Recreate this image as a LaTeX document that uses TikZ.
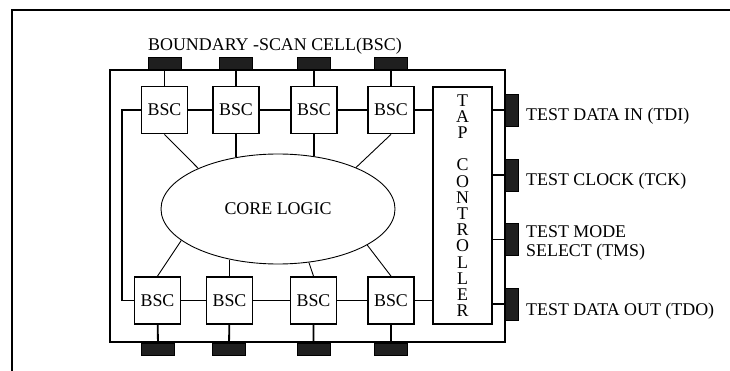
\documentclass[tikz,border=0pt]{standalone}
\usepackage{fontspec}
\setmainfont{Liberation Serif}
\usetikzlibrary{shapes.geometric}

\tikzset{
  bsc/.style={draw, line width=1.8pt, minimum width=46pt, minimum height=47pt, inner sep=0pt, fill=white},
  pad/.style={draw, fill=black!88, line width=0.8pt, inner sep=0pt},
  toppad/.style={pad, minimum width=33pt, minimum height=12pt},
  sidepad/.style={pad, minimum width=13pt, minimum height=32pt},
  wire/.style={line width=1.8pt},
  thinwire/.style={line width=0.9pt},
  pinlabel/.style={anchor=base west, inner sep=0pt, align=left},
}

\begin{document}
\begin{tikzpicture}[x=1pt, y=-1pt, font=\fontsize{17.9}{18}\selectfont]
    \useasboundingbox (0,0) rectangle (730,371);
    \draw[line width=2.2pt] (730,10) -- (12,10) -- (12,371);

    % chip outline
    \node[draw, line width=1.8pt, minimum width=395pt, minimum height=272pt, inner sep=0pt] (chip) at (307.5,206) {};

    \node[pinlabel] (title) at (148,51) {BOUNDARY -SCAN CELL(BSC)};

    % boundary scan cells
    \node[bsc] (t1) at (164.5,110) {BSC};
    \node[bsc] (t2) at (236,110) {BSC};
    \node[bsc] (t3) at (314,110) {BSC};
    \node[bsc] (t4) at (391,110) {BSC};
    \node[bsc] (b1) at (157.5,300.5) {BSC};
    \node[bsc] (b2) at (229.5,300.5) {BSC};
    \node[bsc] (b3) at (313.5,300.5) {BSC};
    \node[bsc] (b4) at (391,300.5) {BSC};

    \node[ellipse, draw, line width=0.9pt, minimum width=234pt, minimum height=110pt] (core) at (278,209) {CORE LOGIC};

    \node[draw, line width=1.8pt, minimum width=59pt, minimum height=237pt, inner sep=0pt, align=center,
          font=\fontsize{17.9}{16.2}\selectfont] (tap) at (462.5,205.5)
          {T\\A\\P\\[16.2pt]C\\O\\N\\T\\R\\O\\L\\L\\E\\R};

    % pins
    \node[toppad] (tp1) at (164.5,63) {};
    \node[toppad] (tp2) at (236,63) {};
    \node[toppad] (tp3) at (314,63) {};
    \node[toppad] (tp4) at (391,63) {};
    \node[toppad] (bp1) at (158,349) {};
    \node[toppad] (bp2) at (229,349) {};
    \node[toppad] (bp3) at (313.5,349) {};
    \node[toppad] (bp4) at (391,349) {};
    \node[sidepad] (tdi) at (511.5,110) {};
    \node[sidepad] (tck) at (511.5,175) {};
    \node[sidepad] (tms) at (511.5,239.5) {};
    \node[sidepad] (tdo) at (511.5,304) {};

    \node[pinlabel] (tdil) at (526,121) {TEST DATA IN (TDI)};
    \node[pinlabel] (tckl) at (526,186) {TEST CLOCK (TCK)};
    \node[pinlabel, anchor=west, font=\fontsize{17.9}{18.5}\selectfont] (tmsl) at (526,243) {TEST MODE\\SELECT (TMS)};
    \node[pinlabel] (tdol) at (526,315.5) {TEST DATA OUT (TDO)};

    % scan chain
    \coordinate (loop) at (122,200);
    \draw[wire] (t1.west) -| (loop) |- (b1.west);
    \draw[wire] (t1) -- (t2) (t2) -- (t3) (t3) -- (t4) (t4) -- (t4 -| tap.west);
    \draw[wire] (b1) -- (b2) (b2) -- (b3) (b3) -- (b4) (b4) -- (b4 -| tap.west);
    \draw[wire] (tp1) -- (t1) (tp2) -- (t2) (tp3) -- (t3) (tp4) -- (t4);
    \draw[wire] (b1) -- (bp1) (b2) -- (bp2) (b3) -- (bp3) (b4) -- (bp4);
    \draw[wire] (tdi) -- (tdi -| tap.east) (tck) -- (tck -| tap.east)
                (tms) -- (tms -| tap.east) (tdo) -- (tdo -| tap.east);

    % cells to core logic
    \draw[thinwire] (t1.south) -- (core.153);
    \draw[wire] (t2) -- (t2 |- core.129);
    \draw[wire] (t3) -- (t3 |- core.55);
    \draw[thinwire] (t4.south) -- (core.28);
    \draw[thinwire] (b1.north) -- (core.198);
    \draw[wire] (b2) -- (b2 |- core.228);
    \draw[thinwire] (b3.north) -- (core.-60);
    \draw[thinwire] (b4.north) -- (core.-22);
\end{tikzpicture}
\end{document}
